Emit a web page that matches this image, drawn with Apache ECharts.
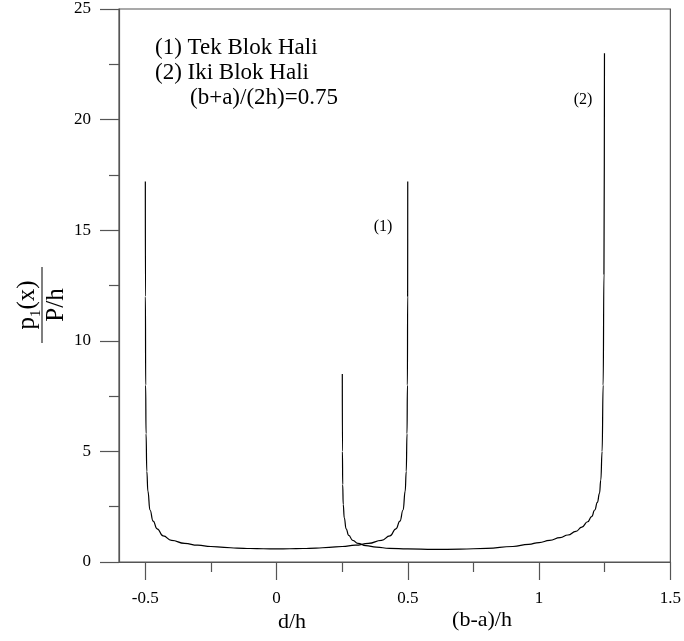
<!DOCTYPE html>
<html>
<head>
<meta charset="utf-8">
<script src="https://cdn.jsdelivr.net/npm/echarts@6/dist/echarts.min.js"></script>
<style>
html,body{margin:0;padding:0;background:#fff;}
#chart{width:684px;height:641px;}
</style>
</head>
<body>
<div id="chart"></div>
<script>
// Curve (1): Tek Blok Hali  [x = d/h, y = p1(x)/(P/h)]
const curve1X = [-0.4997,-0.4993,-0.4985,-0.497,-0.494,-0.49,-0.482,-0.47,-0.455,-0.432,-0.40,-0.35,-0.30,-0.25,-0.20,-0.15,-0.10,-0.05,0,
                 0.05,0.10,0.15,0.20,0.25,0.30,0.35,0.40,0.432,0.455,0.47,0.482,0.49,0.494,0.497,0.4985,0.4993,0.4997];
const curve1Y = [17.2,12,8,5.8,4.1,3.2,2.35,1.85,1.5,1.18,0.98,0.84,0.76,0.70,0.66,0.63,0.61,0.60,0.59,
                 0.60,0.61,0.63,0.66,0.70,0.76,0.84,0.98,1.18,1.5,1.85,2.35,3.2,4.1,5.8,8,12,17.2];
// Curve (2): Iki Blok Hali  [x = (b-a)/h]
const curve2X = [0.2505,0.251,0.252,0.254,0.258,0.265,0.275,0.29,0.31,0.34,0.38,0.43,0.50,0.60,0.70,0.80,0.90,0.96,1.00,1.04,1.08,1.11,1.14,1.163,1.185,1.20,1.212,1.222,1.23,1.235,1.24,1.244,1.247,1.249];
const curve2Y = [8.5,5.0,3.5,2.6,2.0,1.5,1.2,0.98,0.84,0.74,0.67,0.62,0.59,0.57,0.58,0.62,0.70,0.80,0.88,0.98,1.1,1.22,1.38,1.58,1.82,2.05,2.35,2.7,3.1,3.7,5.0,8.0,13,23];
// Tick labels
const xMajorTicks = [-0.5, 0, 0.5, 1, 1.5];
const xMinorTicks = [-0.25, 0.25, 0.75, 1.25];
const legendLines = ['(1) Tek Blok Hali', '(2) Iki Blok Hali', '(b+a)/(2h)=0.75'];

const FONT = '"Liberation Serif", "DejaVu Serif", serif';
const AX = '#555';
const chart = echarts.init(document.getElementById('chart'), null, {renderer: 'canvas'});
const zip = (xs, ys) => xs.map((x, i) => [x, ys[i]]);

chart.setOption({
  animation: false,
  backgroundColor: '#fff',
  grid: {left: 119, right: 12, top: 9, bottom: 79, show: true, borderColor: AX, borderWidth: 1.2, backgroundColor: 'transparent'},
  xAxis: [{
    type: 'value', min: -0.6, max: 1.5, position: 'bottom',
    axisLine: {show: true, onZero: false, lineStyle: {color: AX, width: 1.2}},
    axisTick: {show: true, inside: false, length: 18, customValues: xMajorTicks, lineStyle: {color: AX, width: 1.2}},
    axisLabel: {show: true, customValues: xMajorTicks, margin: 28, fontFamily: FONT, fontSize: 17, color: '#000',
      formatter: v => String(v)},
    splitLine: {show: false}
  }, {
    type: 'value', min: -0.6, max: 1.5, position: 'bottom', offset: 0,
    axisLine: {show: false, onZero: false},
    axisTick: {show: true, inside: false, length: 10, customValues: xMinorTicks, lineStyle: {color: AX, width: 1.2}},
    axisLabel: {show: false},
    splitLine: {show: false}
  }],
  yAxis: {
    type: 'value', min: 0, max: 25, interval: 5, position: 'left',
    axisLine: {show: true, onZero: false, lineStyle: {color: AX, width: 1.2}},
    axisTick: {show: true, inside: false, length: 19, lineStyle: {color: AX, width: 1.2}},
    minorTick: {show: true, splitNumber: 2, length: 10, lineStyle: {color: AX, width: 1.2}},
    axisLabel: {margin: 28, fontFamily: FONT, fontSize: 17, color: '#000'},
    splitLine: {show: false}
  },
  series: [{
    type: 'line', name: '(1)', data: zip(curve1X, curve1Y), showSymbol: false, smooth: true, smoothMonotone: 'x',
    lineStyle: {color: '#000', width: 1.2}, clip: true
  }, {
    type: 'line', name: '(2)', data: zip(curve2X, curve2Y), showSymbol: false, smooth: true, smoothMonotone: 'x',
    lineStyle: {color: '#000', width: 1.2}, clip: true
  }],
  graphic: [
    {type: 'text', left: 155, top: 36, style: {text: legendLines[0], font: '23px ' + FONT, fill: '#000'}},
    {type: 'text', left: 155, top: 61, style: {text: legendLines[1], font: '23px ' + FONT, fill: '#000'}},
    {type: 'text', left: 190, top: 86, style: {text: legendLines[2], font: '23px ' + FONT, fill: '#000'}},
    {type: 'text', x: 383, y: 227, style: {text: '(1)', font: '16px ' + FONT, fill: '#000', align: 'center', verticalAlign: 'middle'}},
    {type: 'text', x: 583, y: 100, style: {text: '(2)', font: '16px ' + FONT, fill: '#000', align: 'center', verticalAlign: 'middle'}},
    {type: 'text', x: 292, y: 622, style: {text: 'd/h', font: '22px ' + FONT, fill: '#000', align: 'center', verticalAlign: 'middle'}},
    {type: 'text', x: 482, y: 620, style: {text: '(b-a)/h', font: '22px ' + FONT, fill: '#000', align: 'center', verticalAlign: 'middle'}},
    {type: 'group', x: 42, y: 305, rotation: Math.PI / 2, children: [
      {type: 'line', shape: {x1: -38, y1: 0, x2: 38, y2: 0}, style: {stroke: AX, lineWidth: 1.5}},
      {type: 'text', x: 0, y: -2, style: {
        text: '{n|p}{s|1}{n|(x)}', align: 'center', verticalAlign: 'bottom', fill: '#000',
        rich: {n: {fontFamily: FONT, fontSize: 25, fill: '#000', verticalAlign: 'bottom'},
               s: {fontFamily: FONT, fontSize: 15, fill: '#000', verticalAlign: 'bottom', padding: [0, 0, -4, 0]}}}},
      {type: 'text', x: 0, y: 2, style: {text: 'P/h', font: '25px ' + FONT, fill: '#000', align: 'center', verticalAlign: 'top'}}
    ]}
  ]
});
</script>
</body>
</html>
